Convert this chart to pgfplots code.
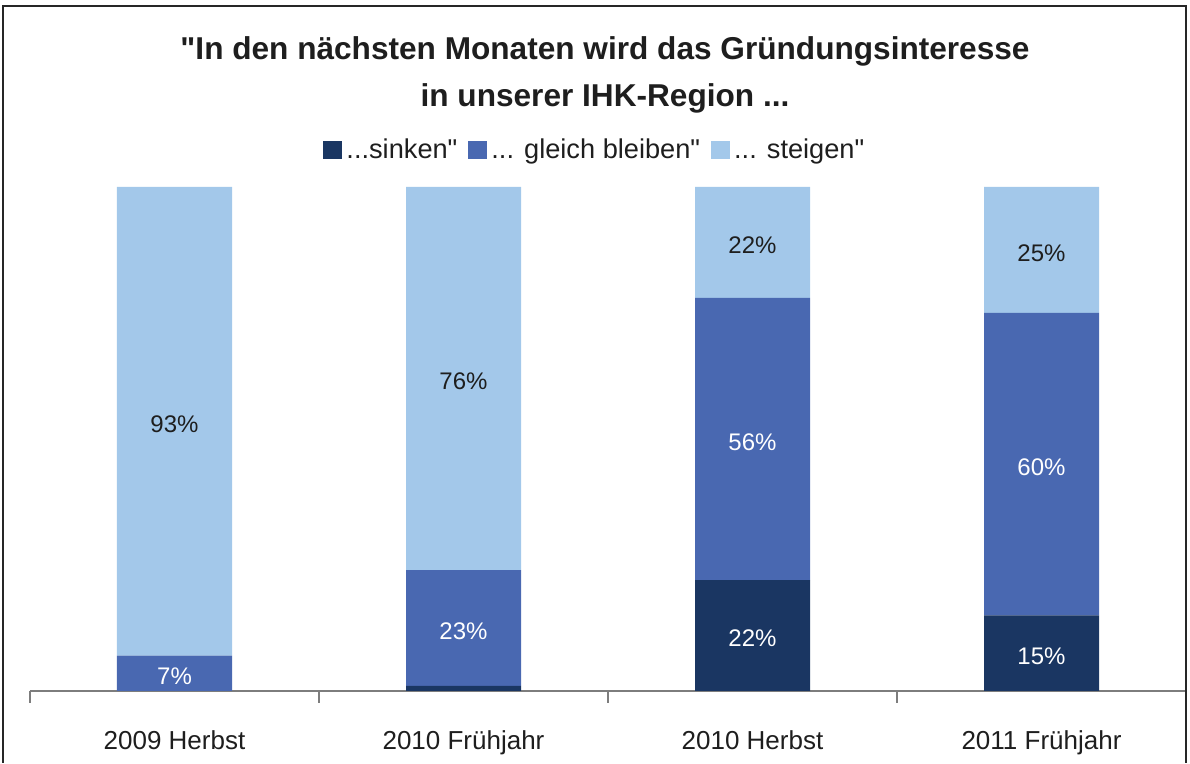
\documentclass[border=0pt]{standalone}
\usepackage{fontspec}
\setmainfont{Liberation Sans}[Ligatures=TeXOff]
\usepackage{pgfplots}
\pgfplotsset{compat=1.18}
\definecolor{cSink}{RGB}{26,54,98}
\definecolor{cGleich}{RGB}{73,104,177}
\definecolor{cSteig}{RGB}{163,200,234}
\definecolor{axgray}{RGB}{125,125,125}
\definecolor{txt}{RGB}{30,30,30}
\begin{document}
\begin{tikzpicture}
\begin{axis}[
  name=main,
  scale only axis, width=578pt, height=252pt,
  xmin=-0.5, xmax=3.5, ymin=0, ymax=100, enlargelimits=false,
  ybar stacked, bar width=57.5pt,
  axis y line=none, axis x line*=bottom,
  axis line style={axgray, line width=0.75pt, -},
  xtick={0,1,2,3},
  xticklabels={2009 Herbst, 2010 Frühjahr, 2010 Herbst, 2011 Frühjahr},
  major tick length=0pt,
  minor xtick={-0.5,0.5,1.5,2.5,3.5},
  minor tick length=6pt, tick align=outside,
  minor tick style={axgray, line width=0.75pt},
  xticklabel style={font=\fontsize{13}{15}\selectfont, text=txt, yshift=-16.5pt},
  legend columns=3,
  legend style={at={(0.4895,1.0734)}, anchor=center, draw=none, fill=none,
    font=\fontsize{13.6}{15}\selectfont, text=txt,
    inner xsep=0pt, inner ysep=0pt,
    /tikz/every even column/.append style={column sep=3.5pt},
    nodes={inner xsep=2pt}},
]
\addplot[fill=cSink, draw=none, legend image code/.code={\fill[cSink] (0pt,-4.5pt) rectangle (9.5pt,4.5pt);}] coordinates {(0,0) (1,1) (2,22) (3,15)};
\addlegendentry{{.}{.}{.}sinken"}
\addplot[fill=cGleich, draw=none, legend image code/.code={\fill[cGleich] (0pt,-4.5pt) rectangle (9.5pt,4.5pt);}] coordinates {(0,7) (1,23) (2,56) (3,60)};
\addlegendentry{{.}{.}{.} gleich bleiben"}
\addplot[fill=cSteig, draw=none, legend image code/.code={\fill[cSteig] (0pt,-4.5pt) rectangle (9.5pt,4.5pt);}] coordinates {(0,93) (1,76) (2,22) (3,25)};
\addlegendentry{{.}{.}{.} steigen"}
\end{axis}
\begin{axis}[
  scale only axis, width=578pt, height=252pt,
  xmin=-0.5, xmax=3.5, ymin=0, ymax=100, enlargelimits=false,
  hide axis, clip=false,
  nodes near coords, point meta=explicit symbolic,
  every node near coord/.append style={anchor=center, yshift=-1.5pt, font=\fontsize{12}{14}\selectfont},
]
\addplot[draw=none, mark=none, nodes near coords, every node near coord/.append style={text=white}] coordinates {
  (0,3.5) [7\%] (1,12.5) [23\%] (2,11) [22\%] (2,50) [56\%] (3,7.5) [15\%] (3,45) [60\%]};
\addplot[draw=none, mark=none, nodes near coords, every node near coord/.append style={text=txt}] coordinates {
  (0,53.5) [93\%] (1,62) [76\%] (2,89) [22\%] (3,87.5) [25\%]};
\end{axis}
% frame and title, relative to the axis box (lower left at origin)
\path (-15pt,-36pt) rectangle (580pt,345.5pt);
\draw[line width=1pt, black!85] (-13.5pt,-36pt) -- (-13.5pt,342.5pt) -- (578pt,342.5pt) -- (578pt,-36pt);
\node[anchor=base, inner sep=0pt, font=\fontsize{15.8}{18}\selectfont\bfseries, text=txt] at (287.5pt,315.5pt) {"In den nächsten Monaten wird das Gründungsinteresse};
\node[anchor=base, inner sep=0pt, font=\fontsize{15.8}{18}\selectfont\bfseries, text=txt] at (287.5pt,292pt) {in unserer IHK-Region {.}{.}{.}};
\end{tikzpicture}
\end{document}
